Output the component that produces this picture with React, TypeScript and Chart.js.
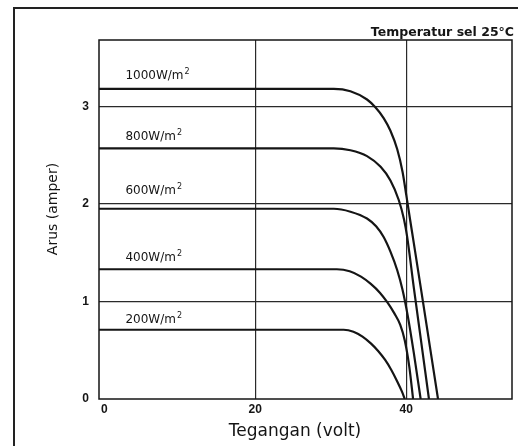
import React, { useEffect, useRef } from "react";
import { Chart, registerables } from "chart.js";

Chart.register(...registerables);

// Axis ticks
const xTicks = [0, 20, 40];
const yTicks = [0, 1, 2, 3];

// I-V curves (voltage in volt, current in ampere)
const v1000 = [-1, 30.4, 32.6, 34.8, 35.9, 37.0, 37.9, 38.8, 39.5, 40.0, 40.5, 41.0, 42.0, 43.1, 44.2];
const i1000 = [3.18, 3.18, 3.155, 3.07, 2.99, 2.88, 2.75, 2.56, 2.33, 2.09, 1.84, 1.595, 1.1, 0.55, 0];

const v800 = [-1, 30.4, 32.6, 34.8, 36.6, 37.9, 39.0, 39.7, 40.1, 41.0, 42.0, 43.0];
const i800 = [2.57, 2.57, 2.55, 2.49, 2.38, 2.24, 2.04, 1.84, 1.67, 1.14, 0.57, 0];

const v600 = [-1, 30.4, 32.6, 34.8, 36.0, 37.0, 37.9, 38.8, 39.5, 40.2, 41.0, 41.9];
const i600 = [1.95, 1.95, 1.92, 1.85, 1.77, 1.66, 1.51, 1.32, 1.12, 0.85, 0.47, 0];

const v400 = [-1, 30.8, 32.5, 34.0, 35.3, 36.5, 37.5, 38.4, 39.2, 39.8, 40.4, 40.9];
const i400 = [1.33, 1.33, 1.31, 1.255, 1.18, 1.09, 0.99, 0.88, 0.76, 0.6, 0.33, 0];

const v200 = [-1, 31.7, 33.0, 34.2, 35.3, 36.3, 37.2, 38.0, 38.8, 39.4, 39.8];
const i200 = [0.71, 0.71, 0.69, 0.64, 0.57, 0.49, 0.4, 0.3, 0.18, 0.08, 0];

// Curve labels
const curveLabels = ["1000W/m", "800W/m", "600W/m", "400W/m", "200W/m"];
const curveLabelX = [2.8, 2.8, 2.8, 2.8, 2.8];
const curveLabelY = [3.28, 2.66, 2.1, 1.41, 0.78];

const titleText = "Temperatur sel 25°C";
const xTitle = "Tegangan (volt)";
const yTitle = "Arus (amper)";

const toPts = (xs: number[], ys: number[]) => xs.map((x, i) => ({ x, y: ys[i] }));

export default function App() {
  const ref = useRef<HTMLCanvasElement | null>(null);

  useEffect(() => {
    if (!ref.current) return;
    const ink = "#151515";

    const decor = {
      id: "decor",
      afterDraw(chart: any) {
        const { ctx, chartArea, scales } = chart;
        ctx.save();
        // outer frame (cut off at the right and bottom)
        ctx.strokeStyle = "#222";
        ctx.lineWidth = 2;
        ctx.beginPath();
        ctx.moveTo(14, 446);
        ctx.lineTo(14, 8);
        ctx.lineTo(520, 8);
        ctx.stroke();
        // plot frame
        ctx.lineWidth = 1.5;
        ctx.strokeStyle = ink;
        ctx.strokeRect(chartArea.left, chartArea.top, chartArea.right - chartArea.left, chartArea.bottom - chartArea.top);
        // title
        ctx.fillStyle = ink;
        ctx.font = "bold 12.5px 'DejaVu Sans'";
        ctx.textAlign = "right";
        ctx.textBaseline = "alphabetic";
        ctx.fillText(titleText, 514, 36);
        // curve labels
        curveLabels.forEach((t, i) => {
          const px = scales.x.getPixelForValue(curveLabelX[i]);
          const py = scales.y.getPixelForValue(curveLabelY[i]);
          ctx.font = "12px 'DejaVu Sans'";
          ctx.textAlign = "left";
          ctx.fillText(t, px, py);
          const w = ctx.measureText(t).width;
          ctx.font = "8px 'DejaVu Sans'";
          ctx.fillText("2", px + w + 1, py - 5);
        });
        // axis titles
        ctx.font = "17px 'DejaVu Sans'";
        ctx.textAlign = "center";
        ctx.fillText(xTitle, 295, 436);
        ctx.translate(57, 209);
        ctx.rotate(-Math.PI / 2);
        ctx.font = "14px 'DejaVu Sans'";
        ctx.fillText(yTitle, 0, 0);
        ctx.restore();
      },
    };

    const ds = (xs: number[], ys: number[]) => ({
      data: toPts(xs, ys),
      borderColor: ink,
      borderWidth: 2.2,
      pointRadius: 0,
      fill: false,
      cubicInterpolationMode: "monotone" as const,
    });

    const gridColor = (c: any) => (c.tick && c.tick.value === 0 ? "rgba(0,0,0,0)" : "#2a2a2a");

    const chart = new Chart(ref.current, {
      type: "line",
      data: {
        datasets: [
          ds(v1000, i1000),
          ds(v800, i800),
          ds(v600, i600),
          ds(v400, i400),
          ds(v200, i200),
        ],
      },
      options: {
        animation: false,
        responsive: false,
        events: [],
        layout: { padding: { top: 40, right: 6, left: 0, bottom: 0 } },
        plugins: { legend: { display: false }, tooltip: { enabled: false }, title: { display: false } },
        scales: {
          x: {
            type: "linear",
            min: -0.7,
            max: 54,
            afterBuildTicks: (s: any) => {
              s.ticks = xTicks.map((v) => ({ value: v }));
            },
            afterFit: (s: any) => {
              s.height = 47;
            },
            border: { display: false },
            grid: { color: gridColor, lineWidth: 1.2, drawTicks: false },
            ticks: {
              color: ink,
              font: { family: "'Liberation Sans', Arial", size: 12, weight: "bold" },
              padding: 3,
              maxRotation: 0,
              autoSkip: false,
            },
          },
          y: {
            type: "linear",
            min: 0,
            max: 3.68,
            afterBuildTicks: (s: any) => {
              s.ticks = yTicks.map((v) => ({ value: v }));
            },
            afterFit: (s: any) => {
              s.width = 99;
            },
            border: { display: false },
            grid: { color: gridColor, lineWidth: 1.2, drawTicks: false },
            ticks: {
              color: ink,
              font: { family: "'Liberation Sans', Arial", size: 12, weight: "bold" },
              padding: 10,
              autoSkip: false,
            },
          },
        },
      },
      plugins: [decor],
    });
    return () => chart.destroy();
  }, []);

  return (
    <div style={{ position: "fixed", left: 0, top: 0, width: 518, height: 446, background: "#fff" }}>
      <canvas ref={ref} width={518} height={446} style={{ display: "block", width: 518, height: 446 }} />
    </div>
  );
}
